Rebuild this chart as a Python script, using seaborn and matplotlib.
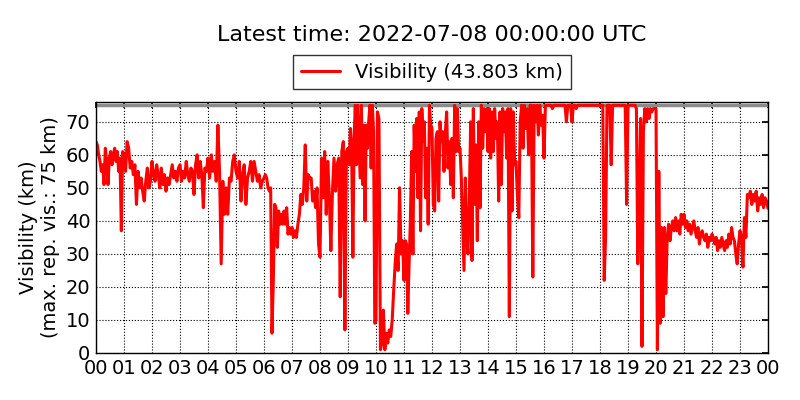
import numpy as np
import pandas as pd
import matplotlib
matplotlib.use("Agg")
import matplotlib.pyplot as plt
import seaborn as sns

# visibility readings (km), one list per hour, spread evenly across that hour
vis_00 = [64, 63, 60, 58, 55, 57, 51, 62, 58, 51, 59, 61, 57, 60, 62, 58, 61, 55, 59, 37, 61]
vis_01 = [60, 55, 64, 62, 56, 58, 54, 57, 45, 55, 50, 53, 49, 46, 52, 56, 50, 52]
vis_02 = [58, 54, 52, 57, 54, 50, 56, 51, 54, 49, 53, 51, 54, 57, 53, 55, 52, 56]
vis_03 = [57, 52, 55, 53, 58, 54, 52, 56, 55, 48, 57, 60, 53, 58, 54, 44, 56, 55]
vis_04 = [59, 53, 60, 55, 58, 52, 69, 55, 27, 52, 42, 50, 42, 53, 52, 58, 60]
vis_05 = [55, 53, 58, 46, 54, 57, 45, 53, 55, 58, 52, 58, 55, 52, 54, 50, 52]
vis_06 = [53, 54, 53, 50, 49, 50, 6, 22, 45, 44, 32, 43, 39, 42, 39, 43, 39, 44, 36, 38, 36]
vis_07 = [38, 35, 37, 35, 39, 42, 48, 45, 50, 63, 46, 54, 53, 53, 46, 49, 44, 50, 33]
vis_08 = [29, 59, 47, 61, 42, 58, 47, 31, 49, 59, 49, 57, 59, 17, 61, 64, 7, 61]
vis_09 = [62, 57, 68, 61, 29, 65, 75, 57, 75, 64, 53, 75, 51, 69, 40, 69, 62, 70, 75, 56, 75, 67, 9]
vis_10 = [10, 73, 71, 1, 3, 13, 1, 6, 3, 7, 5, 10, 19, 27, 33, 25, 50, 30, 34]
vis_11 = [22, 34, 33, 12, 27, 40, 61, 30, 69, 55, 71, 47, 73, 37, 74, 64, 70, 47, 62, 39, 75, 69]
vis_12 = [68, 45, 43, 65, 67, 46, 70, 64, 67, 55, 67, 73, 56, 64, 51, 65, 47, 75, 61, 74, 61]
vis_13 = [62, 53, 39, 25, 53, 35, 30, 47, 70, 28, 74, 45, 63, 34, 70, 44, 75, 62, 74, 67, 74]
vis_14 = [61, 74, 59, 73, 61, 74, 65, 70, 46, 73, 51, 74, 67, 73, 59, 74, 11, 74, 43, 73, 57]
vis_15 = [58, 48, 41, 70, 75, 62, 75, 68, 74, 60, 75, 75, 23, 75, 70, 75, 66, 75, 69, 72]
vis_16 = [59, 75, 75, 75, 75, 75, 74, 75, 75, 75, 75, 75, 75, 75, 75, 75, 70, 75, 75, 75]
vis_17 = [70, 75, 75, 74, 75, 75, 75, 75, 75, 75, 75, 75, 75, 75, 75, 75, 75, 75, 75, 75]
vis_18 = [75, 75, 75, 22, 35, 75, 75, 75, 57, 75, 75, 75, 75, 75, 75, 75, 75, 75, 75, 45]
vis_19 = [75, 75, 75, 75, 75, 75, 74, 27, 47, 71, 2, 67, 74, 70, 74, 71, 74, 73, 74, 74]
vis_20 = [74, 1, 55, 9, 38, 11, 38, 18, 35, 39, 34, 38, 40, 37, 41, 37, 40, 36, 42, 39]
vis_21 = [42, 38, 40, 37, 39, 36, 38, 40, 37, 35, 38, 33, 36, 37, 35, 34, 36, 32, 35, 34]
vis_22 = [36, 35, 33, 35, 31, 34, 32, 35, 33, 31, 34, 32, 36, 33, 38, 35, 34, 30, 27, 33]
vis_23 = [37, 35, 26, 41, 35, 48, 47, 49, 45, 48, 46, 49, 43, 47, 45, 48, 44, 47, 46, 43.803]

max_vis = 75
hour_labels = [f"{h % 24:02d}" for h in range(25)]

hourly = [vis_00, vis_01, vis_02, vis_03, vis_04, vis_05, vis_06, vis_07,
          vis_08, vis_09, vis_10, vis_11, vis_12, vis_13, vis_14, vis_15,
          vis_16, vis_17, vis_18, vis_19, vis_20, vis_21, vis_22, vis_23]

times = []
values = []
for h, chunk in enumerate(hourly):
    t = np.linspace(h, h + 1, len(chunk), endpoint=(h == 23))
    times.extend(t)
    values.extend(chunk)
df = pd.DataFrame({"hour": times, "vis": values})

sns.set_theme(style="white")
plt.rcParams.update({
    "font.family": ["DejaVu Sans"],
    "text.color": "black",
    "axes.labelcolor": "black",
    "xtick.color": "black",
    "ytick.color": "black",
    "xtick.direction": "in",
    "ytick.direction": "in",
    "xtick.top": True,
    "ytick.right": True,
    "axes.edgecolor": "black",
    "axes.linewidth": 1.0,
})

fig = plt.figure(figsize=(8, 4), dpi=100)
ax = fig.add_axes([0.12, 0.1175, 0.84, 0.6275])

ax.axhline(max_vis, color="#8c8c8c", lw=2.5, zorder=1)
sns.lineplot(data=df, x="hour", y="vis", color="red", lw=2.2, ax=ax,
             label=f"Visibility ({values[-1]:.3f} km)")

ax.set_xlim(0, 24)
ax.set_ylim(0, 76)
ax.set_xticks(range(25))
ax.set_xticklabels(hour_labels)
ax.set_yticks(range(0, 80, 10))
ax.grid(True, color="black", linestyle=":", linewidth=0.8)
ax.tick_params(labelsize=14, length=4, color="black", labelcolor="black", pad=4)
ax.set_xlabel("")
ax.set_ylabel("Visibility (km)\n(max. rep. vis.: 75 km)", fontsize=14, color="black")

leg = ax.legend(loc="lower center", bbox_to_anchor=(0.5, 1.05), fontsize=14,
                frameon=True, fancybox=False, borderaxespad=0)
leg.get_frame().set_edgecolor("black")
leg.get_frame().set_linewidth(1)
for txt in leg.get_texts():
    txt.set_color("black")

ax.text(0.5, 1.265, "Latest time: 2022-07-08 00:00:00 UTC", transform=ax.transAxes,
        ha="center", va="center", fontsize=16, color="black")

fig.savefig("out.png", dpi=100)
